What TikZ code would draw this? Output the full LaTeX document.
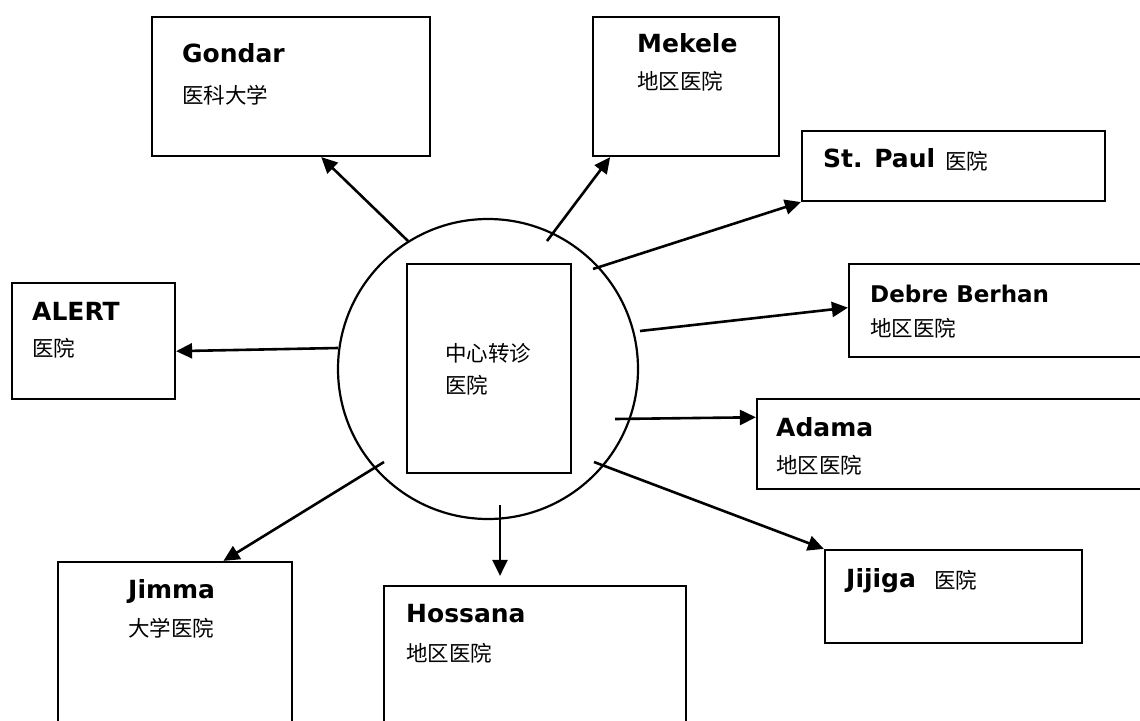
\documentclass[tikz,border=0pt]{standalone}
\usepackage{fontspec}
\newfontfamily\lat{DejaVu Sans}
\newfontfamily\cjk{Noto Sans CJK SC}
\usetikzlibrary{arrows.meta,calc}
\tikzset{
  box/.style={draw, line width=2.2pt, rectangle, inner sep=0pt},
  link/.style={-{Triangle[length=16pt,width=15pt]}, line width=2.6pt},
  en/.style={anchor=base west, inner sep=0pt, font=\lat\bfseries\fontsize{25}{30}\selectfont},
  cn/.style={anchor=west, inner sep=0pt, font=\cjk\fontsize{21.5}{26}\selectfont},
}
\begin{document}
\begin{tikzpicture}[x=1pt,y=-1pt]
\useasboundingbox (0,0) rectangle (1140,720);
\fill[white] (0,0) rectangle (1140,720);
\clip (0,0) rectangle (1140,720);

% boxes
\node[box, minimum width=278pt, minimum height=139pt] (gondar) at (291,86.5) {};
\node[box, minimum width=186pt, minimum height=139pt] (mekele) at (686,86.5) {};
\node[box, minimum width=303pt, minimum height=70pt] (stpaul) at (953.5,166) {};
\node[box, minimum width=311pt, minimum height=93pt] (debre) at (1004.5,310.5) {};
\node[box, minimum width=403pt, minimum height=90pt] (adama) at (958.5,444) {};
\node[box, minimum width=257pt, minimum height=93pt] (jijiga) at (953.5,596.5) {};
\node[box, minimum width=302pt, minimum height=154pt] (hossana) at (535,663) {};
\node[box, minimum width=234pt, minimum height=178pt] (jimma) at (175,651) {};
\node[box, minimum width=163pt, minimum height=116pt] (alert) at (93.5,341) {};

% hub
\node[circle, draw, line width=2.2pt, minimum size=300pt, inner sep=0pt] (hub) at (488,369) {};
\node[box, minimum width=164pt, minimum height=209pt] (core) at (489,368.5) {};

% labels
\node[en] (lgondar) at (182,62) {Gondar};
\node[cn] (cgondar) at (182,95.5) {医科大学};
\node[en] (lmekele) at (637,52) {Mekele};
\node[cn] (cmekele) at (637,81.5) {地区医院};
\node[en] (lstpaul) at (823,167) {St. Paul};
\node[cn] (cstpaul) at (945,161) {医院};
\node[en, font=\lat\bfseries\fontsize{23}{28}\selectfont] (ldebre) at (870,302) {Debre Berhan};
\node[cn] (cdebre) at (870,328) {地区医院};
\node[en] (ladama) at (776,436) {Adama};
\node[cn] (cadama) at (776,465) {地区医院};
\node[en] (ljijiga) at (846,587) {Jijiga};
\node[cn] (cjijiga) at (934,580) {医院};
\node[en] (lhossana) at (406,622) {Hossana};
\node[cn] (chossana) at (406,653) {地区医院};
\node[en] (ljimma) at (128,598) {Jimma};
\node[cn] (cjimma) at (128,628) {大学医院};
\node[en] (lalert) at (32,320) {ALERT};
\node[cn] (calert) at (32,348) {医院};
\node[cn] (ccore1) at (445,353) {中心转诊};
\node[cn] (ccore2) at (445,385) {医院};

% start points inside the hub
\coordinate (sg) at (408,241);
\coordinate (sm) at (547,241);
\coordinate (ss) at (593,269);
\coordinate (sd) at (640,331);
\coordinate (sa) at (615,419);
\coordinate (sj) at (594,462);
\coordinate (sh) at (500,505);
\coordinate (sm2) at (384,462);
\coordinate (sl) at (338,348);
\coordinate (th) at ($(hossana.north -| sh)+(0,-9)$);

% connectors
\draw[link] (sg) -- ($(gondar.south west)!0.608!(gondar.south east)$);
\draw[link] (sm) -- ($(mekele.south west)!0.097!(mekele.south east)$);
\draw[link] (ss) -- (stpaul.south west);
\draw[link] (sd) -- ($(debre.north west)!0.47!(debre.south west)$);
\draw[link] (sa) -- ($(adama.north west)!0.21!(adama.south west)$);
\draw[link] (sj) -- (jijiga.north west);
\draw[link] (sh) -- (th);
\draw[link] (sm2) -- ($(jimma.north west)!0.705!(jimma.north east)$);
\draw[link] (sl) -- ($(alert.north east)!0.586!(alert.south east)$);
\end{tikzpicture}
\end{document}
